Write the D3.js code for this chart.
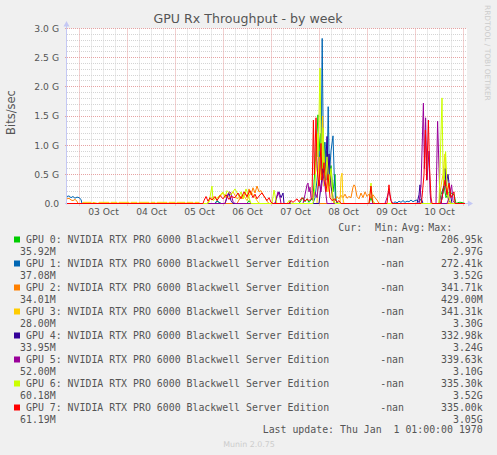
<!DOCTYPE html>
<html><head><meta charset="utf-8">
<script src="https://cdn.jsdelivr.net/npm/d3@7"></script>
<style>
body{margin:0;background:#f0f0f0}
text{white-space:pre}
</style>
</head><body>
<svg id="c" width="497" height="455"></svg>
<script>
// ---------- data ----------
const title = "GPU Rx Throughput - by week";
const yAxisLabel = "Bits/sec";
const yTicks = [0, 0.5, 1.0, 1.5, 2.0, 2.5, 3.0];
const yTickLabels = ["0.0", "0.5 G", "1.0 G", "1.5 G", "2.0 G", "2.5 G", "3.0 G"];
const dayLabels = ["03 Oct", "04 Oct", "05 Oct", "06 Oct", "07 Oct", "08 Oct", "09 Oct", "10 Oct"];
const seriesNames = [
  "GPU 0: NVIDIA RTX PRO 6000 Blackwell Server Edition",
  "GPU 1: NVIDIA RTX PRO 6000 Blackwell Server Edition",
  "GPU 2: NVIDIA RTX PRO 6000 Blackwell Server Edition",
  "GPU 3: NVIDIA RTX PRO 6000 Blackwell Server Edition",
  "GPU 4: NVIDIA RTX PRO 6000 Blackwell Server Edition",
  "GPU 5: NVIDIA RTX PRO 6000 Blackwell Server Edition",
  "GPU 6: NVIDIA RTX PRO 6000 Blackwell Server Edition",
  "GPU 7: NVIDIA RTX PRO 6000 Blackwell Server Edition"
];
const seriesColors = ["#00CC00", "#0066B3", "#FF8000", "#FFCC00", "#330099", "#990099", "#CCFF00", "#FF0000"];
const curLabels = ["-nan", "-nan", "-nan", "-nan", "-nan", "-nan", "-nan", "-nan"];
const minLabels = ["206.95k", "272.41k", "341.71k", "341.31k", "332.98k", "339.63k", "335.30k", "335.00k"];
const avgLabels = ["35.92M", "37.08M", "34.01M", "28.00M", "33.95M", "52.00M", "60.18M", "61.19M"];
const maxLabels = ["2.97G", "3.52G", "429.00M", "3.30G", "3.24G", "3.10G", "3.52G", "3.05G"];
const lastUpdate = "Last update: Thu Jan  1 01:00:00 1970";

// [hours since 02 Oct 18:00, Gbit/s]
const gpu0 = [[0,0],[74,0],[75,0.04],[76,0.02],[77,0],[90,0],[91,0.05],[92,0],[116,0],[117,0.05],[118,0.1],[119,0.03],[120,0.08],[121,0.02],[122,0.06],[123,0.1],[124,0.6],[125.5,1.52],[126,0.9],[126.8,1.2],[127.5,0.5],[128.5,1.05],[129,0.4],[130,0.9],[131,0.3],[132,0.65],[133,0.2],[134,0.5],[134.5,0.05],[135,0.02],[136,0],[151,0],[152,0.1],[153,0],[186,0],[187,0.15],[188.5,0.3],[189.5,0.1],[191,0.2],[193.5,0.15],[194.5,0],[196,0.02],[197,0.02],[199,0]];
const gpu1 = [[0,0.12],[1,0.13],[2,0.1],[3,0.12],[4,0.09],[5,0.11],[6,0.1],[7,0.07],[7.5,0],[74,0],[75,0.05],[76,0.02],[77,0],[123,0],[124,0.1],[125,0.4],[126,0.9],[127,0.5],[127.6,2.83],[128.2,0.8],[129,1.05],[130,0.4],[130.6,1.66],[131.2,0.5],[132,0.9],[133,1.16],[133.6,0.5],[134.2,0.1],[135,0],[163,0],[164,0.03],[165,0.01],[166,0.04],[167,0.02],[168,0.05],[169,0.02],[170,0.04],[171,0.03],[172,0.06],[173,0.03],[174,0.05],[175,0.06],[176,0.02],[177,0.08],[177.5,0],[187,0],[188,0.2],[189,0.37],[190,0.15],[191,0.05],[192,0],[199,0]];
const gpu2 = [[0,0.08],[1,0.09],[2,0.06],[3,0.05],[4,0.07],[5,0.04],[5.5,0],[85,0],[86,0.06],[87,0.12],[88,0.08],[89,0.2],[90,0.1],[91,0.25],[92,0.15],[93,0.27],[94,0.18],[95,0.3],[96,0.2],[97,0.22],[98,0.15],[99,0.1],[100,0.04],[101,0],[133,0],[134,0.05],[135,0.12],[136,0.08],[137,0.14],[138,0.1],[139,0.16],[140,0.09],[141,0.12],[142,0.1],[143,0.28],[143.5,0.32],[144,0.3],[145,0.12],[146,0.08],[147,0.18],[148,0.1],[149,0.2],[150,0.12],[151,0.16],[152,0.09],[153,0.15],[154,0.1],[155,0.06],[156,0],[199,0]];
const gpu3 = [[0,0],[7.5,0],[8,0.02],[12,0.02],[12.5,0],[13,0.02],[15.5,0],[16,0.02],[21,0.02],[21.5,0],[22,0.02],[25,0.02],[25.5,0],[26,0.02],[31,0.02],[31.5,0],[32,0.02],[35,0.02],[35.5,0],[36,0.02],[41,0.02],[41.5,0],[42,0.02],[44,0.02],[44.5,0],[45,0.02],[50,0.02],[50.5,0],[51,0.02],[54,0.02],[54.5,0],[55,0.02],[59,0.02],[59.5,0],[60,0.02],[63,0.02],[63.5,0],[64,0.02],[66,0.02],[66.5,0],[70,0],[71,0.05],[73,0.12],[75,0.06],[78,0.18],[80,0.1],[83,0.2],[85,0.08],[88,0.15],[90,0.05],[92,0.2],[94,0.1],[96,0],[125,0],[126,0.8],[127,0.4],[127.8,1.5],[128.5,0.3],[129.5,0.7],[130.5,0.2],[131.5,0.5],[132.5,0.1],[133.5,0],[136.5,0],[137,0.45],[137.5,0.52],[138,0.08],[138.5,0],[186,0],[187,0.3],[188,0.5],[189,0.85],[189.7,0.3],[190.5,0.1],[191,0],[199,0]];
const gpu4 = [[0,0],[79,0],[80,0.1],[81,0.18],[82,0.05],[83,0],[104,0],[105,0.12],[106,0.2],[107,0.1],[108,0.18],[108.5,0],[111,0],[111.5,0.05],[112,0],[126,0],[127,0.3],[128,0.6],[129,0.4],[130,1.15],[130.5,0.5],[131,0.85],[132,0.3],[133,0.1],[134,0],[175,0],[176,0.15],[176.5,0.32],[177,0.1],[178,0],[187,0],[188,0.2],[189,0.6],[189.5,0.3],[190.5,0.5],[191.5,0.2],[192.5,0],[199,0]];
const gpu5 = [[0,0],[79,0],[80,0.12],[81,0.2],[82,0.18],[83,0.03],[84,0],[104,0],[105.5,0.2],[106.5,0.1],[107,0],[118,0],[119,0.15],[120,0.32],[120.5,0.35],[121,0.2],[121.5,0.28],[122,0.1],[123,0.05],[124,0.2],[125,0.1],[126,0.4],[127,0.2],[128,0.5],[129,0.3],[130,0],[159,0],[160,0.1],[161,0.22],[162,0.05],[163,0],[176,0],[177,0.3],[178.2,1.72],[178.7,0.6],[179.3,1.47],[180,0.4],[181,0.9],[181.5,0.2],[182,0],[184.5,0],[185.3,1.41],[186,0.6],[186.5,0],[190,0],[191,0.1],[192.3,0.32],[193,0.05],[194,0],[199,0]];
const gpu6 = [[0,0],[70,0],[71,0.02],[72.5,0.3],[73,0.05],[74,0.08],[76,0.12],[78,0.2],[79,0.1],[80,0.22],[82,0.15],[84,0.25],[86,0.12],[87,0.2],[88,0.08],[89.5,0.25],[91,0.1],[92,0],[102.5,0],[103.5,0.23],[104.5,0.05],[105,0],[110,0],[111,0.05],[112,0],[123,0],[124,0.3],[125,1.2],[125.5,0.8],[126,1.5],[126.5,2.32],[127,1.1],[127.5,0.6],[128,1.3],[129,0.4],[130,0.8],[131,0.3],[132,0.6],[133,0.1],[134,0],[151,0],[152,0.35],[152.5,0.15],[153,0.05],[154,0],[186,0],[187.5,1.81],[188,0.6],[188.5,0.3],[189.3,0.89],[190,0.3],[191,0.1],[192,0],[199,0]];
const gpu7 = [[0,0],[68,0],[68.5,0.05],[69.5,0.12],[70.5,0.04],[71.5,0.1],[72.5,0.06],[74,0.12],[75,0.05],[76.5,0.14],[78,0.08],[79.5,0.15],[81,0.07],[82,0.12],[84,0.1],[85.5,0.18],[87,0.08],[88.5,0.2],[90,0.12],[91.5,0.22],[93,0.1],[94,0.16],[95,0.08],[96.5,0.15],[97.5,0.18],[99,0.1],[100,0.05],[101,0.1],[102,0.02],[103,0],[111,0],[112,0.05],[113,0.02],[115,0.08],[116,0.03],[117.5,0.1],[119,0.04],[120,0.08],[121,0.05],[122,0.08],[122.5,0.1],[123.2,1.43],[123.7,0.5],[124.5,1.47],[125,0.6],[126,0.3],[127,1.03],[127.5,0.4],[128.5,0.7],[129.5,0.2],[130.5,0.5],[131.5,0.1],[132.5,0.05],[134,0.08],[135,0.02],[136,0.05],[137,0],[151,0],[152,0.3],[152.5,0.1],[153,0],[160,0],[161,0.32],[161.5,0.15],[162,0.05],[162.5,0],[177,0],[177.5,0.1],[178.5,0.5],[179.2,1.26],[179.8,0.4],[180.7,1.43],[181.3,0.6],[182,0.1],[182.5,0],[187,0],[188,0.2],[189,0.4],[190,0.15],[191,0.35],[192,0.1],[193.5,0.2],[194,0],[199,0]];
const allSeries = [gpu0, gpu1, gpu2, gpu3, gpu4, gpu5, gpu6, gpu7];

// ---------- drawing ----------
const H = 3600e3;
const t0 = Date.UTC(2025, 9, 2, 18);
const t1 = t0 + 200 * H;
const svg = d3.select("#c");
const L = 67, R = 467, T = 28.5, B = 203.5;
const x = d3.scaleUtc().domain([t0, t1]).range([L, R]);
const y = d3.scaleLinear().domain([0, 3]).range([B, T]);
const px = v => Math.round(v - 0.5) + 0.5;

svg.append("rect").attr("width", 497).attr("height", 455).attr("fill", "#f0f0f0");
svg.append("rect").attr("x", L).attr("y", T).attr("width", R - L).attr("height", B - T).attr("fill", "#ffffff");

// minor grid
const g = svg.append("g");
d3.range(1, 31).filter(i => i % 5 !== 0).forEach(i => {
  const yy = px(y(i / 10));
  g.append("line").attr("x1", L).attr("x2", R).attr("y1", yy).attr("y2", yy)
    .attr("stroke", "#d4d4d4").attr("stroke-dasharray", "1,1");
});
d3.utcHour.every(6).range(new Date(t0 + 1), new Date(t1)).forEach(d => {
  if (d.getUTCHours() === 0) return;
  const xx = px(x(d));
  g.append("line").attr("x1", xx).attr("x2", xx).attr("y1", T).attr("y2", B)
    .attr("stroke", "#d4d4d4").attr("stroke-dasharray", "1,1");
});
// major grid
yTicks.forEach(v => {
  const yy = px(y(v));
  g.append("line").attr("x1", L - 2).attr("x2", R).attr("y1", yy).attr("y2", yy)
    .attr("stroke", "#e6a3a3").attr("stroke-dasharray", "1,1");
});
d3.utcDay.range(new Date(t0), new Date(t1)).forEach(d => {
  const xx = px(x(d));
  g.append("line").attr("x1", xx).attr("x2", xx).attr("y1", T).attr("y2", B + 2)
    .attr("stroke", "#e6a3a3").attr("stroke-dasharray", "1,1");
});

// axes lines + arrows
const axisColor = "#c4c8f4";
svg.append("line").attr("x1", L - 0.5).attr("x2", L - 0.5).attr("y1", B + 1).attr("y2", 24).attr("stroke", axisColor);
svg.append("line").attr("x1", L - 2).attr("x2", R + 2).attr("y1", B).attr("y2", B).attr("stroke", axisColor);
svg.append("path").attr("d", `M${L - 3.5},26.5 L${L + 2.5},26.5 L${L - 0.5},21 Z`).attr("fill", axisColor);
svg.append("path").attr("d", `M${R + 1},${B - 3} L${R + 1},${B + 3} L${R + 6},${B} Z`).attr("fill", axisColor);

// series
const line = d3.line().x(d => x(t0 + d[0] * H)).y(d => y(d[1]));
allSeries.forEach((s, i) => {
  svg.append("path").attr("d", line(s)).attr("fill", "none")
    .attr("stroke", seriesColors[i]).attr("stroke-width", 1);
});

// y axis labels
const yAxis = d3.axisLeft(y).tickValues(yTicks).tickSize(0).tickPadding(8)
  .tickFormat((d, i) => yTickLabels[i]);
const ya = svg.append("g").attr("transform", `translate(${L},0)`).call(yAxis);
ya.select(".domain").remove();
ya.selectAll("text").attr("font-family", "DejaVu Sans").attr("font-size", 9.2).attr("fill", "#555");

// x axis labels (centered at noon)
const noonTicks = dayLabels.map((_, i) => new Date(Date.UTC(2025, 9, 3 + i, 12)));
const xAxis = d3.axisBottom(x).tickValues(noonTicks).tickSize(0).tickPadding(5)
  .tickFormat((d, i) => dayLabels[i]);
const xa = svg.append("g").attr("transform", `translate(0,${B})`).call(xAxis);
xa.select(".domain").remove();
xa.selectAll("text").attr("font-family", "DejaVu Sans").attr("font-size", 9.2).attr("fill", "#555");

// title & side texts
svg.append("text").attr("x", 248).attr("y", 23).attr("text-anchor", "middle")
  .attr("font-family", "DejaVu Sans").attr("font-size", 12.6).attr("fill", "#555").text(title);
svg.append("text").attr("transform", "translate(15,112.5) rotate(-90)").attr("text-anchor", "middle")
  .attr("font-family", "DejaVu Sans").attr("font-size", 11.5).attr("fill", "#555").text(yAxisLabel);
svg.append("text").attr("transform", "translate(485,5) rotate(90)")
  .attr("font-family", "DejaVu Sans").attr("font-size", 7.45).attr("fill", "#cccccc").text("RRDTOOL / TOBI OETIKER");

// legend
const mono = "DejaVu Sans Mono", fs = 9.9, lc = "#555";
const lg = svg.append("g").attr("font-family", mono).attr("font-size", fs).attr("fill", lc);
[["Cur:", 338.3], ["Min:", 375], ["Avg:", 401.7], ["Max:", 428.3]].forEach(([t, xx]) => {
  lg.append("text").attr("x", xx).attr("y", 230.5).text(t);
});
seriesNames.forEach((n, i) => {
  const by = 242.5 + 24 * i;
  lg.append("rect").attr("x", 14).attr("y", by - 6).attr("width", 6).attr("height", 6).attr("fill", seriesColors[i]);
  lg.append("text").attr("x", 26).attr("y", by).text(n);
  lg.append("text").attr("x", 404).attr("y", by).attr("text-anchor", "end").text(curLabels[i]);
  lg.append("text").attr("x", 482.7).attr("y", by).attr("text-anchor", "end").text(minLabels[i]);
  lg.append("text").attr("x", 20).attr("y", by + 12).text(avgLabels[i]);
  lg.append("text").attr("x", 482.7).attr("y", by + 12).attr("text-anchor", "end").text(maxLabels[i]);
});
lg.append("text").attr("x", 482.7).attr("y", 433).attr("text-anchor", "end").text(lastUpdate);
svg.append("text").attr("x", 249).attr("y", 446.5).attr("text-anchor", "middle")
  .attr("font-family", "DejaVu Sans").attr("font-size", 7.9).attr("fill", "#cccccc").text("Munin 2.0.75");
</script>
</body></html>
